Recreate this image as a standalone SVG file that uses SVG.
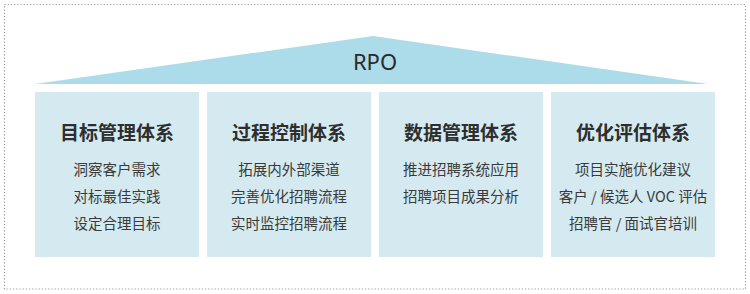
<svg xmlns="http://www.w3.org/2000/svg" width="750" height="294" viewBox="0 0 750 294">
<style>
.box{fill:#d5eaf0;}
.title{font-family:"Noto Sans CJK SC","Noto Sans",sans-serif;font-size:19px;font-weight:bold;fill:#2e2e2e;text-anchor:middle;}
.item{font-family:"Noto Sans CJK SC","Noto Sans",sans-serif;font-size:14.5px;fill:#3a3a3a;text-anchor:middle;}
</style>
<rect x="0" y="0" width="750" height="294" fill="#ffffff"/>
<rect x="4.5" y="4.5" width="741" height="284.5" fill="none" stroke="#9a9a9a" stroke-width="1.2" stroke-dasharray="1.2 2"/>
<g id="roof">
<polygon points="35,84 373,36 708,84" fill="#acdbe9"/>
<text x="375" y="70" font-family="'Noto Sans','Open Sans',sans-serif" font-size="22" fill="#2a2a2a" text-anchor="middle">RPO</text>
</g>
<g id="node1">
<rect class="box" x="35" y="92" width="164" height="165"/>
<text class="title" x="117" y="140">目标管理体系</text>
<text class="item" x="117" y="174.5">洞察客户需求</text>
<text class="item" x="117" y="202">对标最佳实践</text>
<text class="item" x="117" y="228.5">设定合理目标</text>
</g>
<g id="node2">
<rect class="box" x="207" y="92" width="164" height="165"/>
<text class="title" x="289" y="140">过程控制体系</text>
<text class="item" x="289" y="174.5">拓展内外部渠道</text>
<text class="item" x="289" y="202">完善优化招聘流程</text>
<text class="item" x="289" y="228.5">实时监控招聘流程</text>
</g>
<g id="node3">
<rect class="box" x="379" y="92" width="164" height="165"/>
<text class="title" x="461" y="140">数据管理体系</text>
<text class="item" x="461" y="174.5">推进招聘系统应用</text>
<text class="item" x="461" y="202">招聘项目成果分析</text>
</g>
<g id="node4">
<rect class="box" x="551" y="92" width="164" height="165"/>
<text class="title" x="633" y="140">优化评估体系</text>
<text class="item" x="633" y="174.5">项目实施优化建议</text>
<text class="item" x="633" y="202">客户 / 候选人 VOC 评估</text>
<text class="item" x="633" y="228.5">招聘官 / 面试官培训</text>
</g>
<g id="connectors"></g>
</svg>
